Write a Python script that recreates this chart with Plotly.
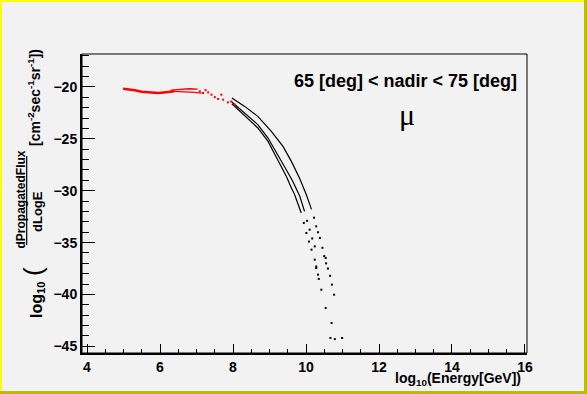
import plotly.graph_objects as go

# ---------------- data ----------------
red_main_x = [4.99, 5.10, 5.31, 5.50, 5.67, 5.95, 6.10, 6.22, 6.40]
red_main_y = [-20.16, -20.20, -20.32, -20.45, -20.52, -20.58, -20.52, -20.48, -20.42]
red_upper_x = [6.30, 6.55, 6.80, 7.03]
red_upper_y = [-20.30, -20.20, -20.17, -20.20]
red_lower_x = [6.40, 6.70, 6.95, 7.14]
red_lower_y = [-20.42, -20.45, -20.52, -20.60]
red_dots_x = [7.09, 7.18, 7.25, 7.32, 7.41, 7.50, 7.59, 7.68, 7.73, 7.86, 7.95, 8.05]
red_dots_y = [-20.42, -20.58, -20.30, -20.52, -20.74, -20.97, -21.16, -20.74, -21.22, -21.48, -21.40, -21.70]

outer_x = [7.97, 8.32, 8.68, 9.05, 9.37, 9.60, 9.83, 10.01, 10.15]
outer_y = [-21.06, -21.87, -22.83, -24.28, -25.72, -27.17, -28.85, -30.38, -31.80]
outer_tail_x = [10.22, 10.28, 10.33, 10.38, 10.45, 10.54, 10.60, 10.66, 10.71, 10.77, 10.70, 10.79, 10.99]
outer_tail_y = [-32.60, -33.43, -34.00, -34.55, -35.50, -36.48, -37.50, -38.20, -39.05, -40.02, -42.75, -44.30, -44.19]

middle_x = [7.97, 8.32, 8.68, 8.96, 9.23, 9.46, 9.64, 9.83, 9.96]
middle_y = [-21.45, -22.51, -23.63, -24.92, -26.52, -27.97, -29.10, -30.54, -31.99]
middle_tail_x = [10.03, 10.10, 10.17, 10.24, 10.28, 10.35, 10.42, 10.54, 10.67]
middle_tail_y = [-32.90, -33.75, -34.60, -35.36, -37.45, -38.50, -39.54, -41.30, -44.19]

inner_x = [7.97, 8.32, 8.68, 8.96, 9.23, 9.46, 9.60, 9.69, 9.87]
inner_y = [-21.61, -22.77, -23.95, -25.24, -27.00, -28.61, -29.73, -30.38, -32.14]
inner_tail_x = [9.94, 10.01, 10.08, 10.15, 10.24, 10.28, 10.33, 10.50, 10.55]
inner_tail_y = [-33.10, -34.07, -34.90, -35.68, -36.64, -37.30, -38.09, -36.30, -37.00]

x_range = [3.863, 16.055]
y_range = [-45.64, -16.82]

# ---------------- layout geometry ----------------
W, H = 587, 394
L, R, T, B = 82, 60, 54, 41
PW, PH = W - L - R, H - T - B


def fx(p):
    return (p - L) / PW


def fy(p):
    return (H - B - p) / PH


FONT = "Liberation Sans, Arial, Helvetica, sans-serif"

fig = go.Figure()


def line_trace(x, y, color, width):
    fig.add_trace(go.Scatter(x=x, y=y, mode="lines",
                             line=dict(color=color, width=width),
                             showlegend=False, hoverinfo="skip"))


def dot_trace(x, y, color):
    fig.add_trace(go.Scatter(x=x, y=y, mode="markers",
                             marker=dict(color=color, size=2, symbol="square",
                                         line=dict(width=0)),
                             showlegend=False, hoverinfo="skip"))


line_trace(outer_x, outer_y, "black", 1.2)
line_trace(middle_x, middle_y, "black", 1.2)
line_trace(inner_x, inner_y, "black", 1.2)
dot_trace(outer_tail_x, outer_tail_y, "black")
dot_trace(middle_tail_x, middle_tail_y, "black")
dot_trace(inner_tail_x, inner_tail_y, "black")

line_trace(red_main_x, red_main_y, "#ff0000", 2.5)
line_trace(red_upper_x, red_upper_y, "#ff0000", 1.3)
line_trace(red_lower_x, red_lower_y, "#ff0000", 1.3)
dot_trace(red_dots_x, red_dots_y, "#ff0000")

axis_common = dict(
    showline=True, linecolor="black", linewidth=2, mirror=False,
    ticks="inside", tickcolor="black", tickwidth=1,
    showgrid=False, zeroline=False, automargin=False,
    tickfont=dict(family=FONT, size=14, color="black", weight="bold"),
)

fig.update_xaxes(range=x_range, tickmode="linear", tick0=4, dtick=2, ticklen=9,
                 minor=dict(ticks="inside", dtick=0.5, tick0=4, ticklen=4.5,
                            tickcolor="black", tickwidth=1, showgrid=False),
                 **axis_common)
fig.update_yaxes(range=y_range, tickmode="linear", tick0=-45, dtick=5, ticklen=13,
                 minor=dict(ticks="inside", dtick=1, tick0=-45, ticklen=7,
                            tickcolor="black", tickwidth=1, showgrid=False),
                 **axis_common)

shapes = []
# frame (top / right)
shapes.append(dict(type="rect", xref="paper", yref="paper", x0=0, x1=1, y0=0, y1=1,
                   line=dict(color="black", width=1), fillcolor="rgba(0,0,0,0)"))


def band(x0, x1, y0, y1, color):
    shapes.append(dict(type="rect", xref="paper", yref="paper",
                       x0=fx(x0), x1=fx(x1), y0=fy(y1), y1=fy(y0),
                       line=dict(width=0), fillcolor=color, layer="above"))


# canvas bevel border
band(0, W, 0, 2, "#ffff00")
band(0, 2, 0, H, "#ffff00")
band(W - 3, W, 0, H, "#bcbc00")
band(0, W, H - 3, H, "#bcbc00")
# fraction bar of the y title
shapes.append(dict(type="line", xref="paper", yref="paper",
                   x0=fx(26.7), x1=fx(26.7), y0=fy(245), y1=fy(156),
                   line=dict(color="black", width=1.2)))

annotations = []


def ann(text, px, py, size, xanchor="center", angle=0, family=FONT):
    annotations.append(dict(text=text, x=fx(px), y=fy(py), xref="paper", yref="paper",
                            xanchor=xanchor, yanchor="middle", textangle=angle,
                            showarrow=False,
                            font=dict(family=family, size=size, color="black")))


ann("<b>65 [deg] &lt; nadir &lt; 75 [deg]</b>", 519, 81, 18, xanchor="right")
ann("μ", 407, 114, 30, family="Liberation Serif, DejaVu Serif, serif")
ann("<b>log<sub>10</sub>(Energy[GeV])</b>", 523, 379, 14, xanchor="right")

ann("<b>log<sub>10</sub></b>", 37, 300, 16, angle=-90)
ann("(", 33, 272, 26, angle=-90)
ann("<b>dPropagatedFlux</b>", 20.5, 200, 12, angle=-90)
ann("<b>dLogE</b>", 37, 212, 13, angle=-90)
ann("<b>[cm<sup>-2</sup>sec<sup>-1</sup>sr<sup>-1</sup>])</b>", 34, 98, 14, angle=-90)

fig.update_layout(
    template="none",
    width=W, height=H,
    margin=dict(l=L, r=R, t=T, b=B, pad=0, autoexpand=False),
    paper_bgcolor="#f2f2f2", plot_bgcolor="#f2f2f2",
    font=dict(family=FONT, color="black"),
    shapes=shapes, annotations=annotations,
    showlegend=False,
)

fig.write_html("out.html", config={"displayModeBar": False})

# remove the browser's default page margin so the figure fills the window
with open("out.html", encoding="utf-8") as fh:
    page = fh.read()
page = page.replace("<head>", "<head><style>html,body{margin:0;padding:0;overflow:hidden;}</style>", 1)
with open("out.html", "w", encoding="utf-8") as fh:
    fh.write(page)
